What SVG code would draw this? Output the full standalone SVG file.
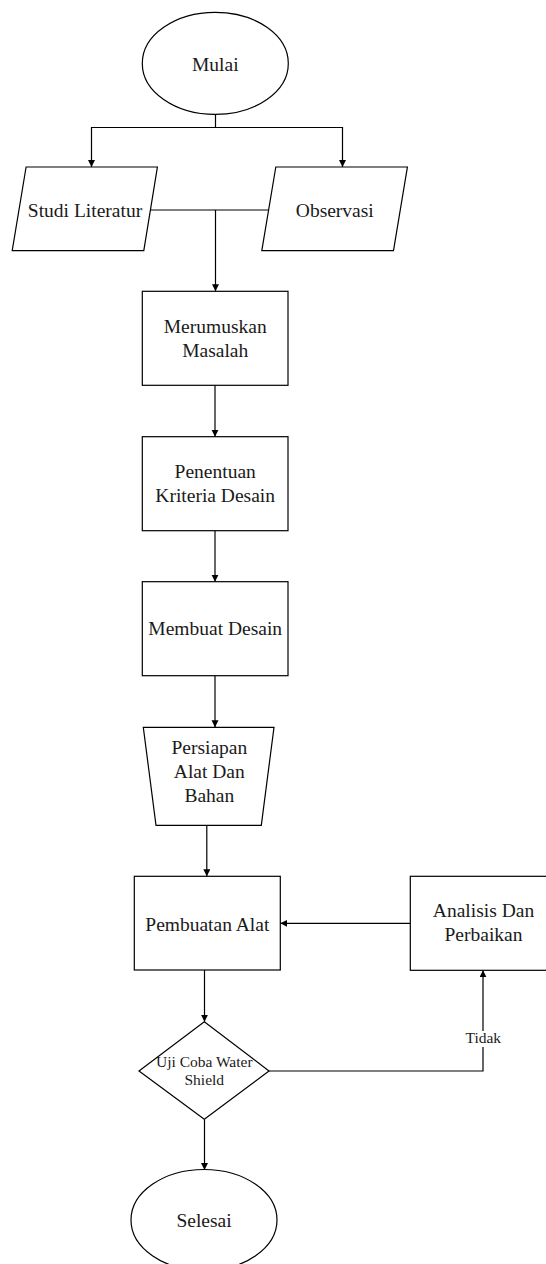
<svg xmlns="http://www.w3.org/2000/svg" width="546" height="1264" viewBox="0 0 546 1264">
<style>
.shape{fill:#fff;stroke:#000;stroke-width:1.2}
.lbl{font-family:"Liberation Serif","Times New Roman",serif;font-size:19.5px;fill:#1a1a1a;text-anchor:middle}
.sm{font-size:15.5px}
.conn path{fill:none;stroke:#000;stroke-width:1.2}
</style>
<defs>
<marker id="arr" markerUnits="userSpaceOnUse" markerWidth="8" markerHeight="8" refX="7" refY="3.5" orient="auto">
<path d="M0,0 L7,3.5 L0,7 z" fill="#000"/>
</marker>
</defs>
<rect width="546" height="1264" fill="#fff"/>
<g id="connectors" class="conn">
<path d="M215.5,114 V127.5 H91.5 V167" marker-end="url(#arr)"/>
<path d="M215.5,127.5 H342.5 V167" marker-end="url(#arr)"/>
<path d="M150.4,210 H268.6"/>
<path d="M215.5,210 V291.3" marker-end="url(#arr)"/>
<path d="M215,385.3 V436.7" marker-end="url(#arr)"/>
<path d="M215,530.7 V581.7" marker-end="url(#arr)"/>
<path d="M215,675.7 V727.3" marker-end="url(#arr)"/>
<path d="M206.8,825.3 V876.3" marker-end="url(#arr)"/>
<path d="M204.5,970 V1021.7" marker-end="url(#arr)"/>
<path d="M204.5,1119.3 V1170" marker-end="url(#arr)"/>
<path d="M269,1071 H483 V970.3" marker-end="url(#arr)"/>
<path d="M410.3,923.3 H280.3" marker-end="url(#arr)"/>
<rect x="466" y="1031" width="35" height="16" fill="#fff"/>
<text class="lbl sm" x="483.3" y="1042.7">Tidak</text>
</g>
<g id="mulai">
<ellipse class="shape" cx="215.3" cy="63.4" rx="73" ry="51"/>
<text class="lbl" x="215.3" y="70.5">Mulai</text>
</g>
<g id="studi-literatur">
<polygon class="shape" points="26.1,167 157.4,167 143.8,250.7 12.2,250.7"/>
<text class="lbl" x="85" y="216.6">Studi Literatur</text>
</g>
<g id="observasi">
<polygon class="shape" points="275.8,167 407.4,167 393.5,250.7 261.8,250.7"/>
<text class="lbl" x="334.8" y="216.6">Observasi</text>
</g>
<g id="merumuskan">
<rect class="shape" x="142.3" y="291.3" width="145.7" height="94"/>
<text class="lbl" x="215.2" y="332.7">Merumuskan</text>
<text class="lbl" x="215.2" y="357">Masalah</text>
</g>
<g id="penentuan">
<rect class="shape" x="142.3" y="436.7" width="145.7" height="94"/>
<text class="lbl" x="215.2" y="478">Penentuan</text>
<text class="lbl" x="215.2" y="501.7">Kriteria Desain</text>
</g>
<g id="membuat-desain">
<rect class="shape" x="142.3" y="581.7" width="145.7" height="94"/>
<text class="lbl" x="215.2" y="635">Membuat Desain</text>
</g>
<g id="persiapan">
<polygon class="shape" points="143.3,727.3 274,727.3 261.3,825.3 156,825.3"/>
<text class="lbl" x="209.3" y="754">Persiapan</text>
<text class="lbl" x="209.3" y="778">Alat Dan</text>
<text class="lbl" x="209.3" y="801.7">Bahan</text>
</g>
<g id="pembuatan-alat">
<rect class="shape" x="134.3" y="876.3" width="146" height="93.7"/>
<text class="lbl" x="207.3" y="930.7">Pembuatan Alat</text>
</g>
<g id="analisis">
<rect class="shape" x="410.3" y="876.3" width="146" height="94"/>
<text class="lbl" x="483.5" y="917.3">Analisis Dan</text>
<text class="lbl" x="483.5" y="941">Perbaikan</text>
</g>
<g id="uji-coba">
<polygon class="shape" points="204.3,1021.7 269,1071 204.3,1119.3 139,1071"/>
<text class="lbl sm" x="204.3" y="1066.7">Uji Coba Water</text>
<text class="lbl sm" x="204.3" y="1085">Shield</text>
</g>
<g id="selesai">
<ellipse class="shape" cx="204" cy="1220" rx="73" ry="50.5"/>
<text class="lbl" x="204" y="1226.7">Selesai</text>
</g>
</svg>
